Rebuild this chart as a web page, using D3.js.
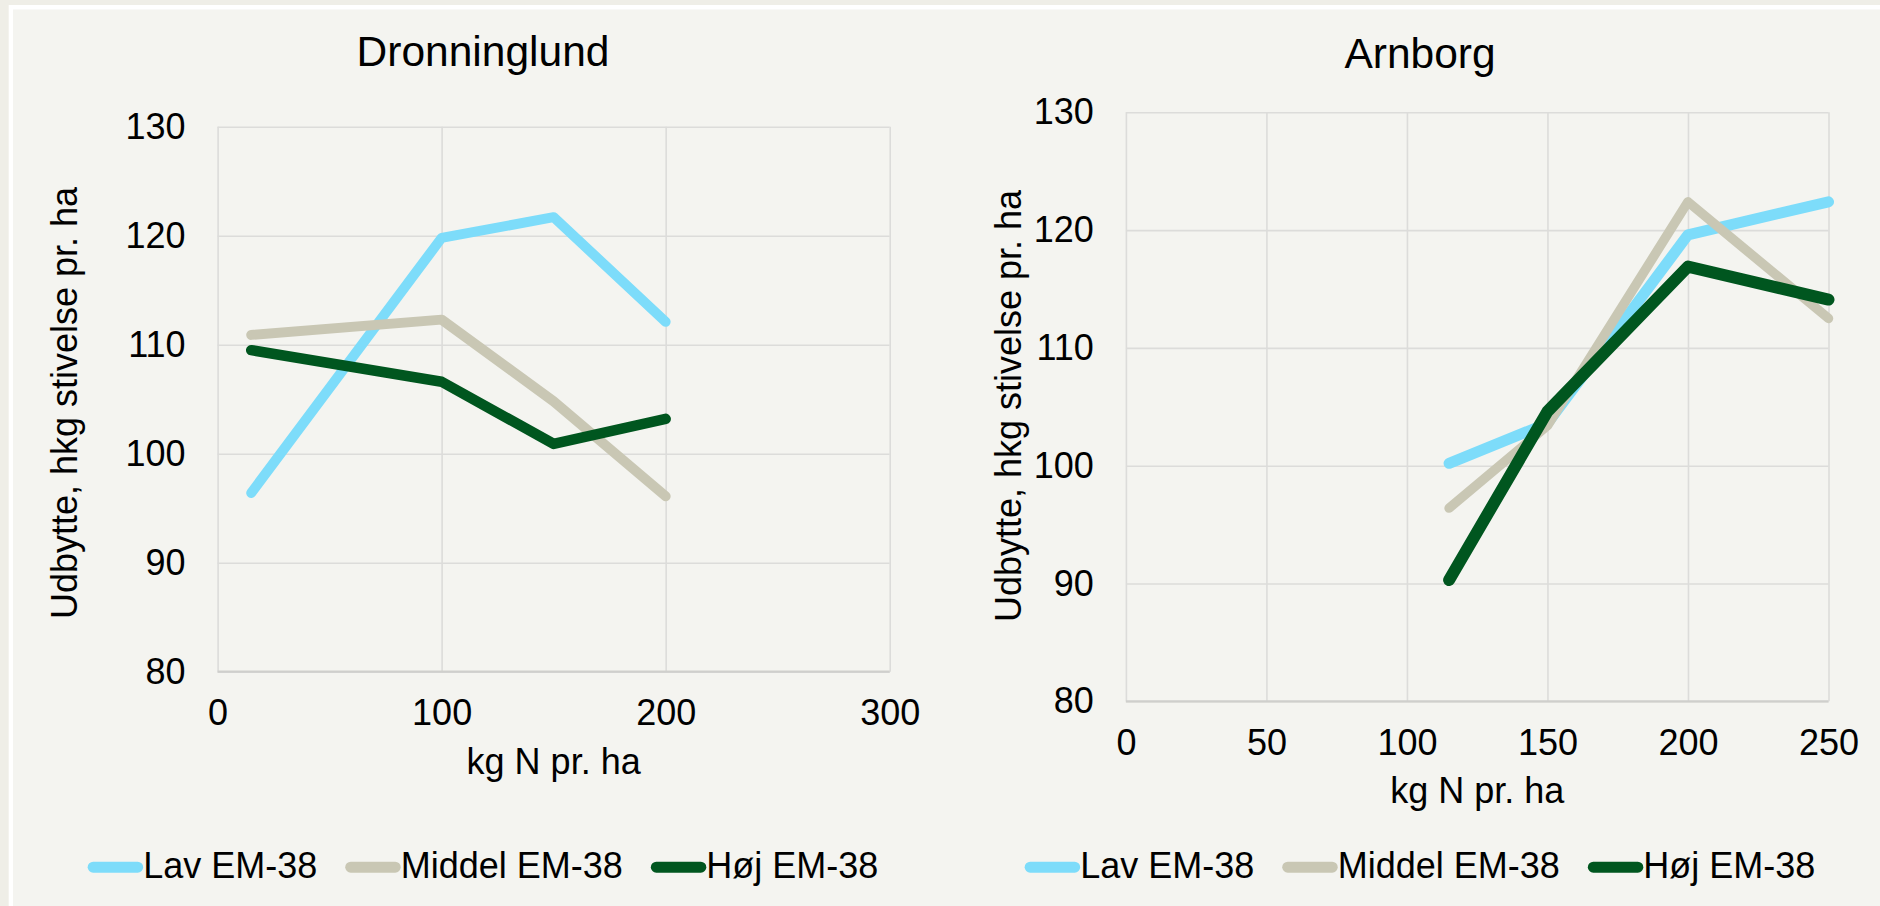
<!DOCTYPE html>
<html>
<head>
<meta charset="utf-8">
<script src="https://cdn.jsdelivr.net/npm/d3@7"></script>
<style>
  html, body { margin: 0; padding: 0; background: #efeee7; }
  svg { display: block; }
  text { font-family: "Liberation Sans", Arial, sans-serif; fill: #000; }
</style>
</head>
<body>
<svg id="chart" width="1880" height="906"></svg>
<script>
// ---- Data ----
const seriesNames = ["Lav EM-38", "Middel EM-38", "Høj EM-38"];
const seriesColors = ["#7ddcfa", "#c9c7b4", "#00561f"];

const dronTitle = "Dronninglund";
const dronN = [15, 100, 150, 200];
const dronLav = [96.4, 119.8, 121.7, 112.1];
const dronMiddel = [110.9, 112.3, 104.8, 96.1];
const dronHoj = [109.5, 106.6, 100.9, 103.2];
const dronXTicks = [0, 100, 200, 300];

const arnTitle = "Arnborg";
const arnN = [115, 150, 200, 250];
const arnLav = [100.2, 103.6, 119.6, 122.4];
const arnMiddel = [96.4, 103.4, 122.4, 112.5];
const arnHoj = [90.3, 104.6, 116.9, 114.1];
const arnXTicks = [0, 50, 100, 150, 200, 250];

const yTicks = [80, 90, 100, 110, 120, 130];
const xTitle = "kg N pr. ha";
const yTitle = "Udbytte, hkg stivelse pr. ha";

// ---- Drawing ----
const svg = d3.select("#chart");
svg.append("rect").attr("x", 8.7).attr("y", 5).attr("width", 1880).attr("height", 906).attr("fill", "#ffffff");
svg.append("rect").attr("x", 13).attr("y", 9.5).attr("width", 1880).attr("height", 906).attr("fill", "#f4f4f0");

function drawPanel(cfg) {
  const x = d3.scaleLinear().domain([0, cfg.xMax]).range([cfg.left, cfg.right]);
  const y = d3.scaleLinear().domain([80, 130]).range([cfg.bottom, cfg.top]);
  const g = svg.append("g");

  // vertical grid
  const gx = g.append("g").attr("transform", `translate(0,${cfg.bottom})`)
    .call(d3.axisBottom(x).tickValues(cfg.xTicks).tickSize(-(cfg.bottom - cfg.top)).tickFormat(""));
  gx.select(".domain").remove();
  gx.selectAll("line").attr("stroke", "#dcdcda").attr("stroke-width", 1.6);

  // horizontal grid
  const gy = g.append("g").attr("transform", `translate(${cfg.left},0)`)
    .call(d3.axisLeft(y).tickValues(yTicks).tickSize(-(cfg.right - cfg.left)).tickFormat(""));
  gy.select(".domain").remove();
  gy.selectAll("line").attr("stroke", "#dcdcda").attr("stroke-width", 1.6);

  // bottom axis line
  g.append("line").attr("x1", cfg.left).attr("x2", cfg.right)
    .attr("y1", y(80)).attr("y2", y(80)).attr("stroke", "#cfcfcc").attr("stroke-width", 2.2);

  // tick labels
  const ax = g.append("g").attr("transform", `translate(0,${cfg.bottom})`)
    .call(d3.axisBottom(x).tickValues(cfg.xTicks).tickSize(0).tickPadding(28).tickFormat(d3.format("d")));
  ax.select(".domain").remove();
  ax.selectAll("text").style("font-size", "36px").attr("fill", "#000");

  const ay = g.append("g").attr("transform", `translate(${cfg.left},0)`)
    .call(d3.axisLeft(y).tickValues(yTicks).tickSize(0).tickPadding(32).tickFormat(d3.format("d")));
  ay.select(".domain").remove();
  ay.selectAll("text").style("font-size", "36px").attr("fill", "#000");

  // lines
  const line = d3.line().x(d => x(d[0])).y(d => y(d[1]));
  cfg.series.forEach((vals, i) => {
    const pts = cfg.xs.map((xv, j) => [xv, vals[j]]);
    g.append("path").datum(pts).attr("d", line)
      .attr("fill", "none").attr("stroke", seriesColors[i])
      .attr("stroke-width", cfg.widths[i])
      .attr("stroke-linecap", "round").attr("stroke-linejoin", "round");
  });

  // titles
  g.append("text").attr("x", cfg.center).attr("y", cfg.titleY).attr("text-anchor", "middle")
    .style("font-size", "42.5px").text(cfg.title);
  g.append("text").attr("x", (cfg.left + cfg.right) / 2).attr("y", cfg.bottom + 102)
    .attr("text-anchor", "middle").style("font-size", "36px").text(xTitle);
  g.append("text").attr("transform", `translate(${cfg.yTitleX},${cfg.yTitleCY}) rotate(-90)`)
    .attr("text-anchor", "middle").style("font-size", "36px").text(yTitle);

  // legend
  const lg = g.append("g");
  let cx = 0;
  seriesNames.forEach((name, i) => {
    lg.append("line").attr("x1", cx + 5.5).attr("x2", cx + 50).attr("y1", -10.5).attr("y2", -10.5)
      .attr("stroke", seriesColors[i]).attr("stroke-width", 11).attr("stroke-linecap", "round");
    const t = lg.append("text").attr("x", cx + 55.5).attr("y", 0).style("font-size", "36px").text(name);
    cx += 55.5 + t.node().getComputedTextLength() + 28;
  });
  const totalW = cx - 28;
  lg.attr("transform", `translate(${cfg.center - totalW / 2},877.7)`);
}

drawPanel({
  title: dronTitle, xMax: 300, xTicks: dronXTicks, xs: dronN,
  series: [dronLav, dronMiddel, dronHoj], widths: [10, 10, 10.5],
  left: 217.6, right: 889.7, top: 126.7, bottom: 671.7,
  center: 483, titleY: 65.5, yTitleX: 77, yTitleCY: 403
});
drawPanel({
  title: arnTitle, xMax: 250, xTicks: arnXTicks, xs: arnN,
  series: [arnLav, arnMiddel, arnHoj], widths: [11, 9.5, 12],
  left: 1125.9, right: 1828.5, top: 112.3, bottom: 701.3,
  center: 1420, titleY: 68, yTitleX: 1021, yTitleCY: 406
});
</script>
</body>
</html>
